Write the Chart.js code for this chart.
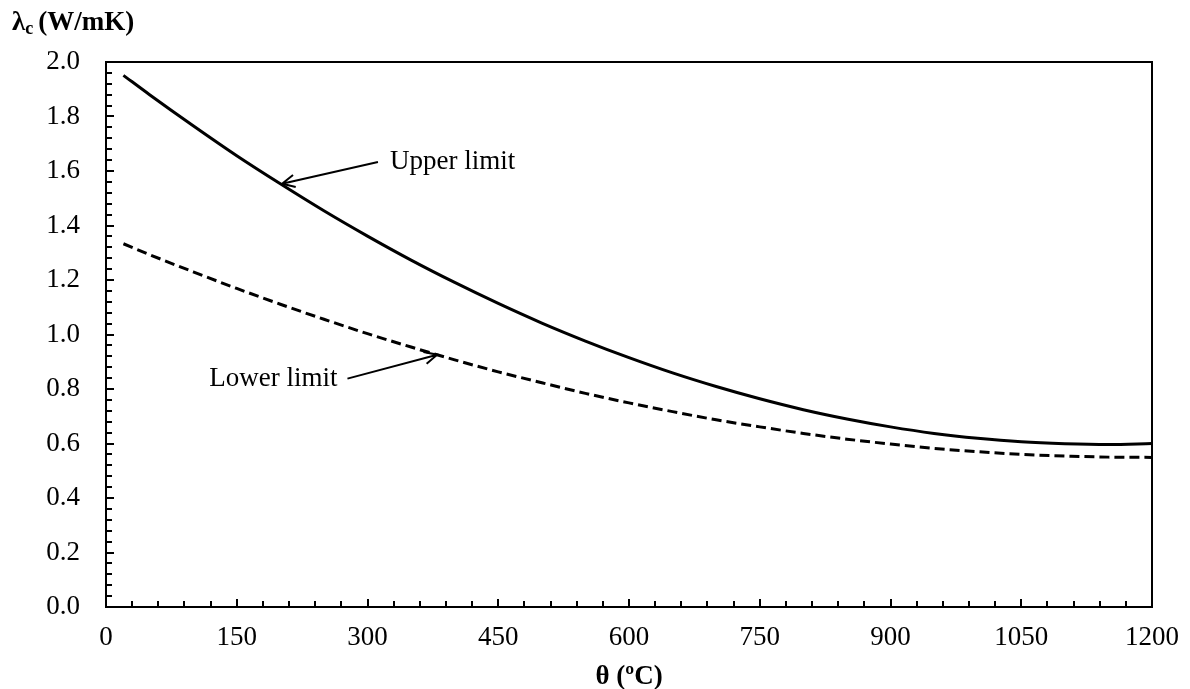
<!DOCTYPE html>
<html>
<head>
<meta charset="utf-8">
<title>Thermal conductivity of concrete</title>
<script src="https://cdn.jsdelivr.net/npm/chart.js@4.4.1/dist/chart.umd.min.js"></script>
<style>
  html, body { margin: 0; padding: 0; background: #fff; }
  canvas { display: block; }
</style>
</head>
<body>
<canvas id="chart" width="1190" height="689"></canvas>
<script>
// Temperature (°C)
const thetaC = [20, 50, 100, 150, 200, 250, 300, 350, 400, 450, 500, 550, 600,
                650, 700, 750, 800, 850, 900, 950, 1000, 1050, 1100, 1150, 1200];
// Thermal conductivity λc (W/mK), upper limit
const upperLimit = [1.951, 1.880, 1.766, 1.656, 1.553, 1.454, 1.361, 1.273, 1.191,
                    1.114, 1.042, 0.976, 0.915, 0.859, 0.809, 0.764, 0.724, 0.690,
                    0.661, 0.637, 0.619, 0.606, 0.599, 0.596, 0.600];
// Thermal conductivity λc (W/mK), lower limit
const lowerLimit = [1.333, 1.293, 1.230, 1.169, 1.111, 1.056, 1.003, 0.954, 0.907,
                    0.863, 0.823, 0.784, 0.749, 0.717, 0.687, 0.661, 0.637, 0.616,
                    0.598, 0.582, 0.570, 0.560, 0.554, 0.550, 0.549];
// Labelled ticks
const xTickLabels = [0, 150, 300, 450, 600, 750, 900, 1050, 1200];
const yTickLabels = ['0.0', '0.2', '0.4', '0.6', '0.8', '1.0', '1.2', '1.4', '1.6', '1.8', '2.0'];

const SERIF = '"Liberation Serif", "Times New Roman", serif';
const FONT_SIZE = 27;

// Callouts: text anchored at the arrow tail, arrow head pointing at the curve (data coordinates)
const callouts = [
  { text: 'Upper limit', tail: [312, 1.633], head: [202, 1.553], align: 'left' },
  { text: 'Lower limit', tail: [277, 0.838], head: [380, 0.926], align: 'right' }
];

const toPoints = (xs, ys) => xs.map((x, i) => ({ x, y: ys[i] }));

const whiteBg = {
  id: 'whiteBg',
  beforeDraw(chart) {
    const c = chart.ctx;
    c.save();
    c.fillStyle = '#fff';
    c.fillRect(0, 0, chart.width, chart.height);
    c.restore();
  }
};

// Plot frame, inward tick marks, axis titles and callouts
const decorations = {
  id: 'decorations',
  afterDatasetsDraw(chart) {
    const c = chart.ctx;
    const a = chart.chartArea;
    const xs = chart.scales.x, ys = chart.scales.y;
    c.save();
    c.strokeStyle = '#000';
    c.lineWidth = 2;
    c.strokeRect(a.left, a.top, a.right - a.left, a.bottom - a.top);

    c.beginPath();
    xs.ticks.forEach(t => {
      if (t.value <= xs.min || t.value >= xs.max) return;
      const px = Math.round(xs.getPixelForValue(t.value));
      const major = xTickLabels.includes(Math.round(t.value));
      const len = major ? 8 : 6;
      c.moveTo(px, a.bottom);
      c.lineTo(px, a.bottom - len);
    });
    ys.ticks.forEach(t => {
      if (t.value <= ys.min + 1e-9 || t.value >= ys.max - 1e-9) return;
      const py = Math.round(ys.getPixelForValue(t.value));
      const major = Math.round(t.value * 100) % 20 === 0;
      const len = major ? 8 : 6;
      c.moveTo(a.left, py);
      c.lineTo(a.left + len, py);
    });
    c.stroke();

    // axis titles
    c.fillStyle = '#000';
    c.textBaseline = 'alphabetic';
    c.textAlign = 'center';
    c.font = 'bold ' + FONT_SIZE + 'px ' + SERIF;
    c.fillText('θ (ºC)', (a.left + a.right) / 2, 684);

    c.textAlign = 'left';
    let x0 = 12, base = 30;
    c.fillText('λ', x0, base);
    x0 += c.measureText('λ').width;
    c.font = 'bold 18px ' + SERIF;
    c.fillText('c', x0, base + 4);
    x0 += c.measureText('c').width + 5;
    c.font = 'bold ' + FONT_SIZE + 'px ' + SERIF;
    c.fillText('(W/mK)', x0, base);

    // callouts
    c.font = FONT_SIZE + 'px ' + SERIF;
    c.textBaseline = 'middle';
    callouts.forEach(cl => {
      const tx = xs.getPixelForValue(cl.tail[0]), ty = ys.getPixelForValue(cl.tail[1]);
      const hx = xs.getPixelForValue(cl.head[0]), hy = ys.getPixelForValue(cl.head[1]);
      c.lineWidth = 2;
      c.beginPath();
      c.moveTo(tx, ty);
      c.lineTo(hx, hy);
      const ang = Math.atan2(hy - ty, hx - tx);
      const L = 14, spread = 0.45;
      c.moveTo(hx - L * Math.cos(ang - spread), hy - L * Math.sin(ang - spread));
      c.lineTo(hx, hy);
      c.lineTo(hx - L * Math.cos(ang + spread), hy - L * Math.sin(ang + spread));
      c.stroke();
      if (cl.align === 'left') {
        c.textAlign = 'left';
        c.fillText(cl.text, tx + 12, ty);
      } else {
        c.textAlign = 'right';
        c.fillText(cl.text, tx - 10, ty);
      }
    });
    c.restore();
  }
};

new Chart(document.getElementById('chart'), {
  type: 'line',
  data: {
    datasets: [
      {
        label: 'Upper limit',
        data: toPoints(thetaC, upperLimit),
        borderColor: '#000',
        borderWidth: 3,
        pointRadius: 0,
        fill: false,
        cubicInterpolationMode: 'monotone'
      },
      {
        label: 'Lower limit',
        data: toPoints(thetaC, lowerLimit),
        borderColor: '#000',
        borderWidth: 3,
        borderDash: [10, 5],
        pointRadius: 0,
        fill: false,
        cubicInterpolationMode: 'monotone'
      }
    ]
  },
  options: {
    responsive: false,
    animation: false,
    devicePixelRatio: 1,
    layout: { padding: { top: 62, right: 38, bottom: 0, left: 0 } },
    plugins: {
      legend: { display: false },
      tooltip: { enabled: false },
      title: { display: false }
    },
    scales: {
      x: {
        type: 'linear',
        min: 0,
        max: 1200,
        afterFit: s => { s.height = 82; s.paddingLeft = 0; s.paddingRight = 0; },
        ticks: {
          stepSize: 30,
          autoSkip: false,
          maxRotation: 0,
          padding: 15,
          color: '#000',
          font: { family: SERIF, size: FONT_SIZE },
          callback: v => xTickLabels.includes(Math.round(v)) ? String(Math.round(v)) : ''
        },
        grid: { display: true, drawOnChartArea: false, drawTicks: false },
        border: { display: false }
      },
      y: {
        type: 'linear',
        min: 0,
        max: 2,
        afterFit: s => { s.width = 106; s.paddingTop = 0; s.paddingBottom = 0; },
        ticks: {
          stepSize: 0.04,
          autoSkip: false,
          padding: 26,
          color: '#000',
          font: { family: SERIF, size: FONT_SIZE },
          callback: v => {
            const k = Math.round(v * 100);
            return k % 20 === 0 ? yTickLabels[k / 20] : '';
          }
        },
        grid: { display: true, drawOnChartArea: false, drawTicks: false },
        border: { display: false }
      }
    }
  },
  plugins: [whiteBg, decorations]
});
</script>
</body>
</html>
